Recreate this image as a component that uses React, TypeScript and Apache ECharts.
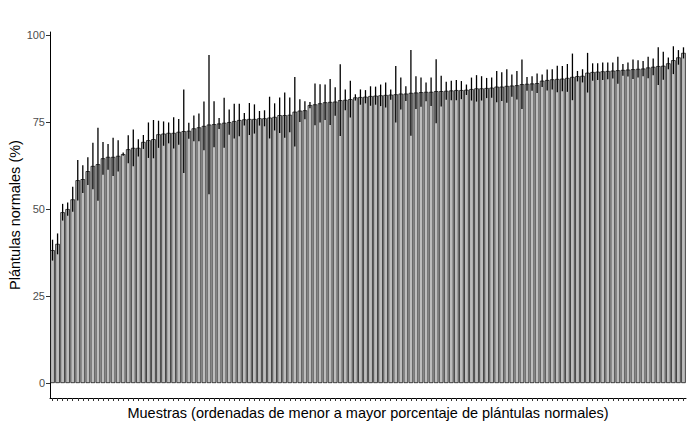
import { useEffect, useRef } from 'react'
import * as echarts from 'echarts'

// mean germination (% normal seedlings) per sample, sorted ascending
const means = [
  38.2, 40.0, 49.1, 50.0, 52.8, 58.3, 58.6, 60.9, 62.4, 62.9,
  64.6, 65.0, 65.0, 65.3, 65.8, 67.2, 67.6, 67.6, 69.3, 69.8,
  70.1, 71.5, 71.7, 71.9, 71.9, 72.2, 72.4, 72.5, 73.2, 73.5,
  73.9, 74.3, 74.4, 74.6, 74.8, 75.0, 75.3, 75.6, 75.8, 75.9,
  75.9, 76.1, 76.1, 76.3, 76.5, 77.0, 77.0, 77.1, 78.0, 78.3,
  78.4, 79.9, 80.1, 80.4, 80.7, 80.8, 80.9, 81.3, 81.4, 81.6,
  82.1, 82.2, 82.3, 82.5, 82.6, 82.7, 82.8, 82.9, 83.0, 83.2,
  83.2, 83.4, 83.5, 83.6, 83.7, 83.7, 83.9, 83.9, 84.0, 84.1,
  84.2, 84.2, 84.3, 84.5, 84.7, 84.7, 84.8, 84.9, 85.2, 85.2,
  85.4, 85.5, 85.6, 85.9, 86.0, 86.1, 86.2, 86.9, 87.1, 87.3,
  87.4, 87.5, 87.7, 88.0, 88.2, 88.3, 89.2, 89.4, 89.5, 89.6,
  89.7, 89.8, 89.9, 90.0, 90.1, 90.2, 90.3, 90.4, 90.7, 90.9,
  91.1, 91.2, 91.9, 92.8, 93.6, 94.9,
]

// standard deviation of each sample (error bar half-length)
const sds = [
  3.0, 3.0, 2.4, 1.9, 3.6, 5.8, 4.0, 4.0, 6.7, 10.5,
  4.7, 3.7, 5.5, 4.5, 0.5, 4.0, 5.3, 2.5, 2.0, 5.1,
  5.5, 3.9, 3.5, 3.0, 4.5, 3.7, 12.0, 2.3, 3.7, 4.0,
  7.0, 20.0, 6.6, 1.6, 7.2, 3.6, 5.0, 4.7, 1.8, 4.6,
  4.2, 2.1, 2.3, 6.0, 3.9, 5.1, 6.5, 5.0, 10.0, 3.3,
  2.6, 0.9, 6.0, 5.5, 5.1, 6.6, 4.1, 10.3, 3.0, 5.3,
  0.9, 2.2, 1.9, 2.8, 2.6, 3.1, 3.6, 1.5, 8.1, 4.6,
  2.1, 12.3, 4.7, 4.2, 2.7, 4.1, 9.2, 4.4, 2.6, 2.8,
  2.9, 2.6, 1.5, 3.3, 3.8, 3.5, 2.9, 2.9, 4.5, 4.1,
  4.8, 3.2, 4.1, 7.1, 2.0, 2.1, 2.8, 1.8, 3.0, 2.9,
  3.8, 3.6, 4.0, 6.7, 1.5, 1.9, 5.7, 2.5, 2.4, 2.5,
  2.4, 2.3, 3.9, 1.7, 2.0, 2.8, 2.5, 2.2, 3.1, 2.4,
  5.4, 4.0, 1.7, 4.0, 2.1, 1.6,
]

const samples = means.map((_, i) => `M${i + 1}`)
const yTicks = [0, 25, 50, 75, 100]

const FONT = '"Liberation Sans", Arial, sans-serif'

export default function App() {
  const ref = useRef<HTMLDivElement>(null)

  useEffect(() => {
    if (!ref.current) return
    const chart = echarts.init(ref.current, undefined, { renderer: 'svg' })

    const option: echarts.EChartsOption = {
      animation: false,
      grid: { left: 50, right: 4, top: 32, bottom: 30, outerBoundsMode: 'none' } as any,
      xAxis: {
        type: 'category',
        data: samples,
        boundaryGap: true,
        name: 'Muestras (ordenadas de menor a mayor porcentaje de plántulas normales)',
        nameLocation: 'middle',
        nameGap: 7,
        nameTextStyle: { fontSize: 14.5, color: '#000', fontFamily: FONT, verticalAlign: 'top' },
        axisLine: { show: true, onZero: false, lineStyle: { color: '#000', width: 1 } },
        axisTick: { show: true, alignWithLabel: true, interval: 0, length: 3, lineStyle: { color: '#333' } },
        axisLabel: { show: false },
        splitLine: { show: false },
      },
      yAxis: {
        type: 'value',
        min: -4.3,
        max: 100.9,
        name: 'Plántulas normales (%)',
        nameLocation: 'middle',
        nameGap: 28,
        nameMoveOverlap: false,
        nameTextStyle: { fontSize: 14.5, color: '#000', fontFamily: FONT },
        axisLine: { show: true, lineStyle: { color: '#000', width: 1 } },
        axisTick: { show: true, length: 4, customValues: yTicks, lineStyle: { color: '#333' } },
        axisLabel: { customValues: yTicks, fontSize: 11, color: '#4D4D4D', fontFamily: FONT, margin: 5 },
        splitLine: { show: false },
      } as any,
      series: [
        {
          type: 'bar',
          data: means,
          barCategoryGap: '10%',
          itemStyle: { color: '#BDBDBD', borderColor: '#000', borderWidth: 0.7 },
        },
        {
          type: 'custom',
          data: means.map((m, i) => [i, m - sds[i], m + sds[i]]),
          encode: { x: 0, y: [1, 2] },
          renderItem: (_params: any, api: any) => {
            const lo = api.coord([api.value(0), api.value(1)])
            const hi = api.coord([api.value(0), api.value(2)])
            return {
              type: 'line',
              shape: { x1: lo[0], y1: lo[1], x2: hi[0], y2: hi[1] },
              style: { stroke: '#000', lineWidth: 1.3 },
            }
          },
          z: 3,
        },
      ],
    }

    chart.setOption(option)
    return () => {
      chart.dispose()
    }
  }, [])

  return (
    <div
      ref={ref}
      style={{ position: 'absolute', left: 0, top: 0, width: 690, height: 428, background: '#fff' }}
    />
  )
}
